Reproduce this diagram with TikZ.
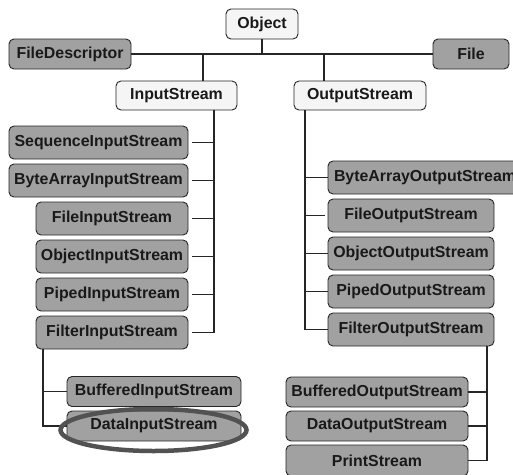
\documentclass[tikz,border=0pt]{standalone}
\usepackage{fontspec}
\usetikzlibrary{shapes.geometric}
\setmainfont{Liberation Sans}
\begin{document}
\begin{tikzpicture}[x=1pt,y=-1pt,
  base/.style={draw=black!85,line width=0.9pt,rounded corners=5pt,inner sep=0pt,
    font=\fontsize{15.9}{18}\selectfont\bfseries,text=black!90},
  gbox/.style={base,fill=black!37},
  lbox/.style={base,fill=black!4},
  conn/.style={draw=black!85,line width=1.2pt},
  ring/.style={draw=black!68,line width=4.5pt}]
\useasboundingbox (0,0) rectangle (513,474);
% top level
\node[lbox,minimum width=72pt,minimum height=30pt] (obj) at (262,24) {Object};
\node[gbox,minimum width=122pt,minimum height=30pt] (fd) at (70,54) {FileDescriptor};
\node[gbox,minimum width=76pt,minimum height=30pt] (file) at (471,54) {File};
\node[lbox,minimum width=121pt,minimum height=29pt] (ins) at (176.5,95.5) {InputStream};
\node[lbox,minimum width=132pt,minimum height=29pt] (outs) at (360,95.5) {OutputStream};
\coordinate (hub) at (262,54);
\coordinate (insup) at (203,54);
\coordinate (outsup) at (324,54);
\draw[conn] (fd.east) -- (file.west);
\draw[conn] (obj.south) -- (hub);
\draw[conn] (insup) -- (insup |- ins.north);
\draw[conn] (outsup) -- (outsup |- outs.north);
% input stream children
\node[gbox,minimum width=179pt,minimum height=33pt] (seq) at (98.5,142.5) {SequenceInputStream};
\node[gbox,minimum width=179pt,minimum height=33pt] (bai) at (98.5,180.5) {ByteArrayInputStream};
\node[gbox,minimum width=152pt,minimum height=33pt] (fis) at (112,218.5) {FileInputStream};
\node[gbox,minimum width=152pt,minimum height=33pt] (ois) at (112,256.5) {ObjectInputStream};
\node[gbox,minimum width=152pt,minimum height=33pt] (pis) at (112,294.5) {PipedInputStream};
\node[gbox,minimum width=152pt,minimum height=33pt] (filt) at (112,332.5) {FilterInputStream};
\coordinate (lt) at (214,110);
\draw[conn] (lt) |- ([xshift=4pt]filt.east);
\foreach \n in {seq,bai,fis,ois,pis}
  \draw[conn,shorten >=4pt] (lt |- \n.east) -- (\n.east);
% output stream children
\node[gbox,minimum width=200pt,minimum height=33pt,text width=200pt,align=left] (baos) at (428,177.5) {\hspace*{6pt}ByteArrayOutputStream};
\node[gbox,minimum width=166pt,minimum height=33pt] (fos) at (411,215.5) {FileOutputStream};
\node[gbox,minimum width=166pt,minimum height=33pt] (oos) at (411,253.5) {ObjectOutputStream};
\node[gbox,minimum width=166pt,minimum height=33pt] (pos) at (411,291.5) {PipedOutputStream};
\node[gbox,minimum width=166pt,minimum height=33pt] (fos2) at (411,329.5) {FilterOutputStream};
\coordinate (rt) at (305,110);
\draw[conn] (rt) |- (fos2.west);
\draw[conn] (rt |- baos.west) -- (baos.west);
\draw[conn,shorten >=3pt] (rt |- fos.west) -- (fos.west);
\draw[conn] (rt |- oos.west) -- (oos.west);
\draw[conn] (rt |- pos.west) -- (pos.west);
% filter input children
\node[gbox,minimum width=174pt,minimum height=30pt] (bis) at (154,391.5) {BufferedInputStream};
\node[gbox,minimum width=174pt,minimum height=30pt] (dis) at (154,426) {DataInputStream};
\coordinate (lt2) at (43,349);
\draw[conn] (lt2) |- (dis.west);
\draw[conn] (lt2 |- bis.west) -- (bis.west);
\node[ring,ellipse,minimum width=186pt,minimum height=42pt,inner sep=0pt] (ring) at (153.5,430) {};
% filter output children
\node[gbox,minimum width=182pt,minimum height=30pt] (bos) at (377,392) {BufferedOutputStream};
\node[gbox,minimum width=182pt,minimum height=30pt] (dos) at (377,426) {DataOutputStream};
\node[gbox,minimum width=182pt,minimum height=31pt] (ps) at (377,460.5) {PrintStream};
\coordinate (rt2) at (487,346);
\draw[conn] (rt2) |- (ps.east);
\draw[conn] (rt2 |- bos.east) -- (bos.east);
\draw[conn] (rt2 |- dos.east) -- (dos.east);
\end{tikzpicture}
\end{document}
